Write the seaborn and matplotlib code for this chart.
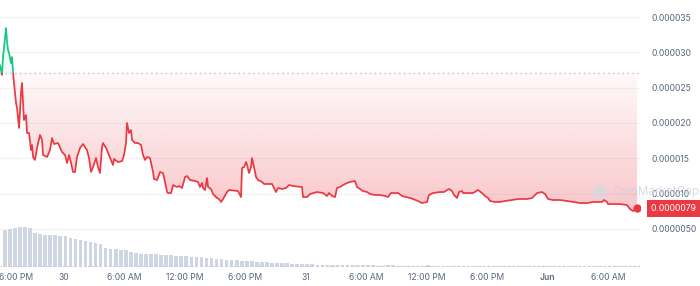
import numpy as np
import matplotlib
matplotlib.use("Agg")
import matplotlib.pyplot as plt
import matplotlib.transforms as mtransforms
from matplotlib.patches import Rectangle, Circle
import seaborn as sns

# ---------------- data ----------------
# time: hours since 29 May, 18:00
hours = [-0.30, -0.10, 0.00, 0.30, 0.40, 0.50, 0.60, 0.79, 0.89, 0.99, 1.09, 1.29, 1.39, 1.59,
         1.79, 1.88, 2.08, 2.28, 2.38, 2.58, 2.78, 2.88, 2.98, 3.17, 3.37, 3.67, 3.87, 3.97,
         4.37, 4.66, 4.86, 5.06, 5.46, 5.85, 6.15, 6.35, 6.55, 6.75, 6.94, 7.14, 7.34, 7.64,
         7.94, 8.33, 8.53, 8.73, 8.93, 9.23, 9.42, 9.62, 9.82, 9.92, 10.22, 10.42, 10.71,
         10.91, 11.01, 11.41, 11.81, 12.00, 12.20, 12.30, 12.50, 12.70, 12.80, 13.10, 13.39,
         13.69, 13.89, 14.09, 14.29, 14.58, 14.88, 14.98, 15.28, 15.58, 15.87, 16.07, 16.27,
         16.37, 16.67, 16.87, 17.26, 17.46, 17.76, 18.06, 18.25, 18.55, 19.05, 19.35, 19.54,
         19.74, 19.84, 20.04, 20.24, 20.34, 20.63, 20.83, 21.23, 21.43, 21.63, 21.83, 22.22,
         22.42, 23.31, 23.61, 23.71, 23.91, 24.11, 24.21, 24.40, 24.60, 24.70, 24.90, 25.10,
         25.30, 25.69, 25.89, 26.69, 26.88, 27.08, 27.28, 27.68, 28.08, 28.37, 28.77, 29.66,
         29.76, 30.16, 30.46, 31.15, 31.75, 32.14, 32.34, 32.64, 32.94, 33.13, 33.43, 33.73,
         34.13, 34.42, 34.92, 35.12, 35.42, 35.71, 36.11, 36.41, 36.90, 37.40, 37.90, 38.19,
         38.49, 39.19, 39.58, 39.98, 40.38, 40.67, 41.17, 41.57, 42.06, 42.26, 42.66, 43.35,
         43.75, 44.05, 44.25, 44.54, 44.74, 45.04, 45.24, 45.54, 45.63, 46.63, 47.12, 47.52,
         47.82, 48.12, 48.31, 48.81, 49.31, 49.80, 50.50, 51.09, 51.98, 52.48, 52.98, 53.47,
         53.77, 54.07, 54.56, 55.26, 55.95, 56.55, 57.24, 57.94, 58.53, 59.42, 59.62, 59.92,
         60.02, 61.21, 61.90, 62.20, 62.50, 62.90]
# price in units of 1e-6
price_e6 = [28.20, 26.79, 29.33, 33.44, 31.46, 30.33, 29.90, 28.48, 29.33, 27.21, 25.65, 22.82,
            22.11, 19.28, 24.38, 25.65, 20.41, 21.12, 18.57, 18.57, 16.16, 16.87, 15.17, 14.75,
            16.45, 18.29, 17.58, 15.45, 15.17, 16.16, 17.86, 17.01, 17.15, 15.88, 15.45, 14.32,
            15.45, 14.32, 13.05, 13.05, 15.17, 16.45, 17.01, 16.16, 15.03, 13.05, 13.75, 15.03,
            13.75, 12.90, 16.59, 17.15, 16.45, 15.74, 14.75, 14.04, 14.89, 14.46, 14.60, 15.45,
            17.15, 19.99, 18.57, 18.99, 17.58, 17.15, 17.15, 16.87, 15.45, 14.75, 15.17, 15.03,
            13.05, 12.05, 11.91, 13.05, 12.90, 11.63, 10.21, 10.07, 10.07, 11.20, 10.92, 11.06,
            10.78, 12.34, 12.48, 11.91, 11.77, 11.63, 10.92, 11.49, 10.78, 10.50, 12.20, 10.92,
            10.64, 9.93, 9.36, 9.22, 8.80, 9.22, 10.21, 10.50, 10.35, 9.50, 13.61, 13.75, 14.46,
            14.04, 12.90, 13.75, 15.03, 13.75, 12.34, 11.91, 11.63, 11.35, 11.35, 10.78, 10.21,
            10.78, 10.64, 10.78, 11.20, 11.06, 10.92, 9.50, 9.50, 9.93, 10.21, 10.07, 9.65,
            10.07, 9.65, 9.50, 10.78, 10.92, 11.20, 11.49, 11.63, 11.77, 10.92, 10.64, 10.35,
            10.21, 9.93, 9.79, 9.79, 9.65, 9.50, 10.07, 10.07, 9.65, 9.50, 9.36, 9.22, 8.94,
            8.65, 8.80, 9.79, 10.07, 10.21, 10.21, 10.50, 10.64, 10.35, 9.79, 9.36, 10.21,
            10.35, 10.07, 10.07, 10.50, 10.07, 9.65, 9.36, 8.94, 8.80, 8.80, 8.94, 9.08, 9.22,
            9.22, 9.36, 10.07, 10.21, 9.93, 9.22, 9.08, 9.08, 8.94, 8.80, 8.65, 8.65, 8.80,
            8.80, 9.08, 8.80, 8.51, 8.51, 8.37, 7.80, 7.52, 7.90]
open_price_e6 = 27.1
last_price_label = "0.0000079"

# volume (relative units), one bar per half hour starting 29 May 18:00
volume = [37, 38, 39.5, 40, 40, 39, 34, 33, 32.5, 32, 32, 31.5, 31, 29.5, 28.5, 27.5, 26.5,
          25.5, 24.5, 23.5, 19, 18.5, 18, 17.5, 17, 15, 14, 13.5, 13.5, 13, 13, 12.5, 12.5,
          12, 11.5, 11.5, 11, 10.5, 10, 10, 9.5, 9, 8.5, 8, 7.5, 7, 7, 6.5, 6, 6, 5.5, 5, 5,
          4.5, 4.5, 4, 4, 3.5, 3.5, 3, 3, 3, 2.5, 2.5, 2.5, 2.5, 2, 2, 2, 2, 2, 2, 2, 2, 1.5,
          1.5, 2, 2, 1.5, 1.5, 1.5, 1.5, 1.5, 1.5, 2, 1.5, 1.5, 1.5, 1.5, 1.5, 1.5, 1.5, 1.5,
          1.5, 1.5, 1.5, 1.5, 1.5, 1.5, 1.5, 1.5, 1.5, 1.5, 1.5, 1, 1, 1.5, 1.5, 1, 1, 1, 1,
          1, 1, 1, 1, 1, 1, 1, 1, 1, 1, 1, 1, 1, 1, 1]

x_tick_hours = [0, 6, 12, 18, 24, 30, 36, 42, 48, 54, 60]
x_tick_labels = ["6:00 PM", "30", "6:00 AM", "12:00 PM", "6:00 PM", "31", "6:00 AM",
                 "12:00 PM", "6:00 PM", "Jun", "6:00 AM"]
y_ticks_e6 = [5, 10, 15, 20, 25, 30, 35]
y_tick_labels = ["0.0000050", "0.000010", "0.000015", "0.000020", "0.000025",
                 "0.000030", "0.000035"]

# ---------------- styling ----------------
RED = "#ea3943"
GREEN = "#16c784"
GREY_TXT = "#58667e"
FS = 6.2

sns.set_theme(style="white")
plt.rcParams["font.family"] = ["Inter", "DejaVu Sans"]

W, H = 700, 286
fig = plt.figure(figsize=(W / 100, H / 100), dpi=100)
fig.patch.set_facecolor("white")
ax = fig.add_axes([0, 19 / H, 640 / W, 267 / H])
ax2 = ax.twinx()

h = np.array(hours)
p = np.array(price_e6)

XMIN, XMAX = -0.30, 63.19
ax.set_xlim(XMIN, XMAX)
ax.set_ylim(-0.41, 37.41)

# horizontal grid
for yt in y_ticks_e6:
    ax.axhline(yt, color="#f1f2f5", lw=0.8, zorder=0)

# gradient fill between line and open price
poly = ax.fill_between(h, p, open_price_e6, facecolor="none", edgecolor="none")
clip_path = poly.get_paths()[0]
n = 256
vals = np.linspace(-0.41, open_price_e6, n)
alpha = 0.03 + 0.26 * np.clip((open_price_e6 - vals) / (open_price_e6 - 7.0), 0, 1.2)
grad = np.zeros((n, 1, 4))
grad[..., 0, 0] = 234 / 255
grad[..., 0, 1] = 57 / 255
grad[..., 0, 2] = 67 / 255
grad[:, 0, 3] = alpha
im = ax.imshow(grad, extent=[h.min(), h.max() + 0.3, -0.41, open_price_e6], origin="lower",
               aspect="auto", zorder=1, interpolation="bilinear")
im.set_clip_path(clip_path, transform=ax.transData)
g = np.zeros((2, 1, 4))
g[..., 0, 0] = 22 / 255
g[..., 0, 1] = 199 / 255
g[..., 0, 2] = 132 / 255
g[:, 0, 3] = [0.06, 0.12]
im2 = ax.imshow(g, extent=[h.min(), h.max(), open_price_e6, 37.4], origin="lower",
                aspect="auto", zorder=1)
im2.set_clip_path(clip_path, transform=ax.transData)

# price line: red below open, green above
sns.lineplot(x=h, y=p, ax=ax, color=RED, lw=1.25, zorder=3, sort=False)
red_line = ax.lines[-1]
red_line.set_clip_path(Rectangle((-1, -5), 70, open_price_e6 + 5, transform=ax.transData))
sns.lineplot(x=h, y=p, ax=ax, color=GREEN, lw=1.25, zorder=3, sort=False)
green_line = ax.lines[-1]
green_line.set_clip_path(Rectangle((-1, open_price_e6), 70, 20, transform=ax.transData))

# open price dotted line
ax.axhline(open_price_e6, color="#b9c1cf", lw=1.0, ls=(0, (1, 2.5)), zorder=2)

# last price dot
ax.plot([h[-1]], [p[-1]], "o", color=RED, ms=5, zorder=4)

# volume bars
vol_x = np.arange(len(volume)) * 0.5
ax2.bar(vol_x, volume, width=0.36, align="edge", color="#cfd6e3", edgecolor="none", zorder=1)
ax2.set_ylim(0, 267)
ax2.axhline(1, color="#c3cad6", lw=1.0, ls=(0, (1, 2)), zorder=2)
ax2.set_yticks([])

for a in (ax, ax2):
    for s in a.spines.values():
        s.set_visible(False)

# ticks
ax.yaxis.tick_right()
ax.set_yticks(y_ticks_e6)
ax.set_yticklabels(y_tick_labels)
ax.tick_params(axis="y", length=0, pad=8.5, labelsize=FS, labelcolor=GREY_TXT)
ax.set_xticks(x_tick_hours[1:])
ax.set_xticklabels(x_tick_labels[1:])
ax.tick_params(axis="x", length=0, pad=4.5, labelsize=FS, labelcolor=GREY_TXT)
ax.grid(False)
ax2.grid(False)
for lbl in ax.get_xticklabels():
    if lbl.get_text() == "Jun":
        lbl.set_fontweight("semibold")
# first tick label kept inside the chart's left edge
ax.annotate(x_tick_labels[0], xy=(XMIN, 0), xycoords=("data", "axes fraction"),
            xytext=(-0.8, -4.5), textcoords="offset points", ha="left", va="top",
            fontsize=FS, color=GREY_TXT, annotation_clip=False)

# right separator
ax.axvline(XMAX, color="#f3f4f6", lw=0.8)

# last price tag
tr = mtransforms.blended_transform_factory(fig.transFigure, ax.transData)
ax.text(651 / W, p[-1], last_price_label + " ", transform=tr, ha="left", va="center",
        fontsize=FS, color="white", clip_on=False, zorder=6,
        bbox=dict(boxstyle="square,pad=0.45", fc=RED, ec="none"))

# watermark
fig.patches.append(Circle((600 / 100, (H - 192) / 100), 0.075, transform=fig.dpi_scale_trans,
                          fc="#d3d9e3", ec="none", alpha=0.6, zorder=10))
fig.text(612 / W, (H - 192) / H, "CoinMarketCap", color="#c9d0db", alpha=0.75,
         fontsize=8.5, va="center", ha="left", zorder=10)

ax.set_xlabel("")
ax.set_ylabel("")
fig.savefig("out.png", dpi=100, facecolor="white")
